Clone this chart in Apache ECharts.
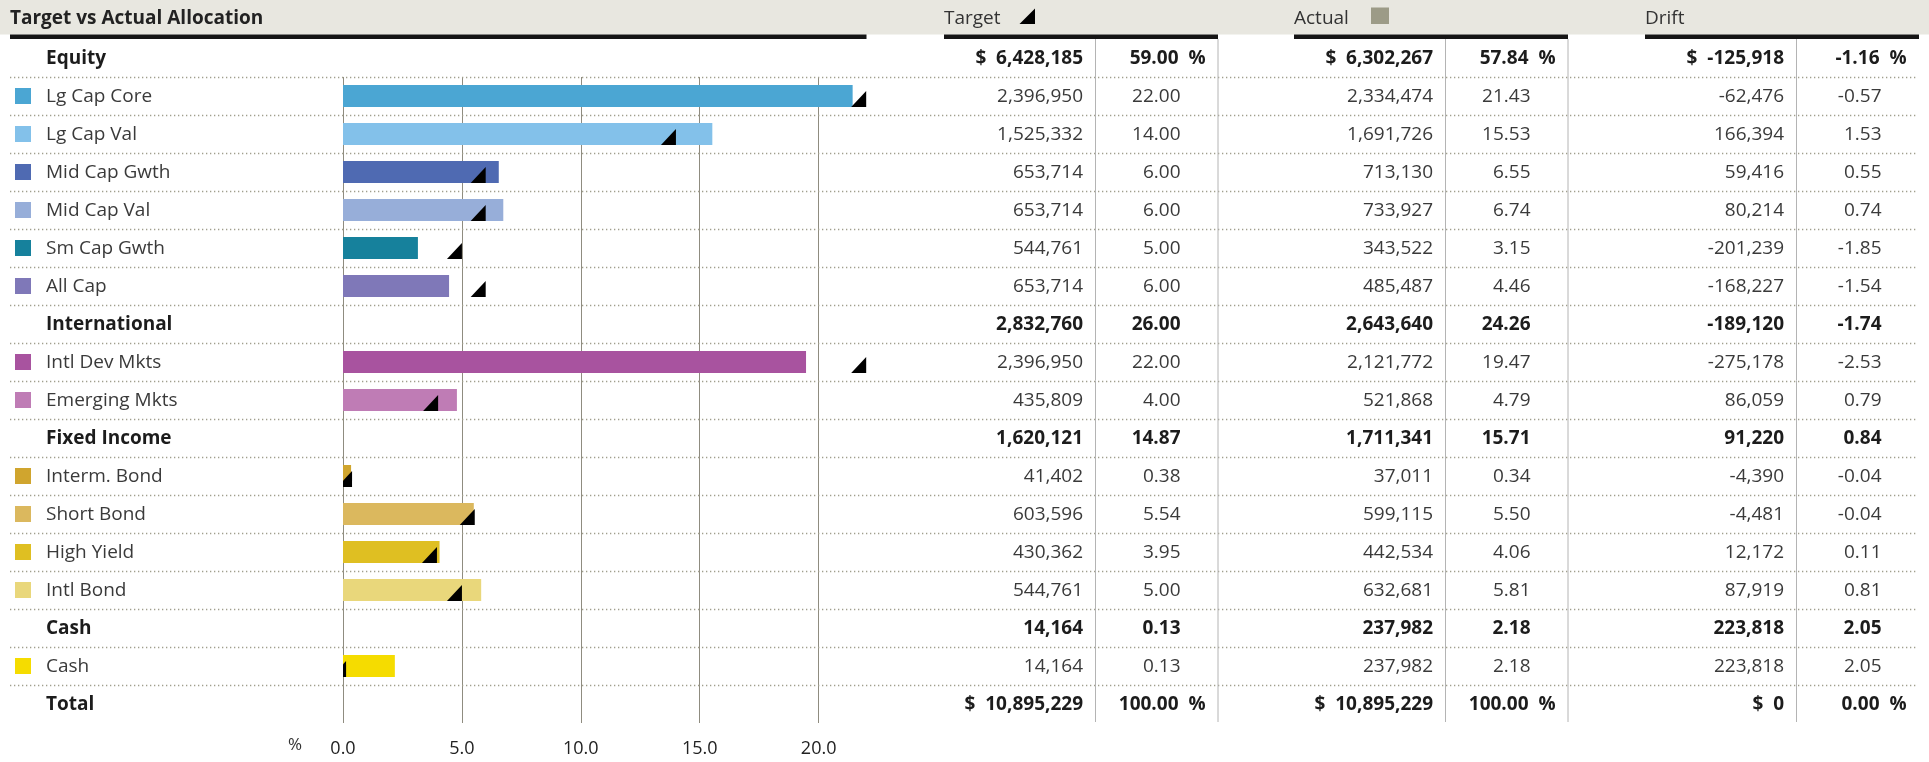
<!DOCTYPE html>
<html>
<head>
<meta charset="utf-8">
<script src="https://cdn.jsdelivr.net/npm/echarts@6/dist/echarts.min.js"></script>
<style>
html,body{margin:0;padding:0;background:#ffffff;}
#c{width:1929px;height:762px;}
</style>
</head>
<body>
<div id="c"></div>
<script>
// ---------------- DATA ----------------
const rowNames = ['Equity','Lg Cap Core','Lg Cap Val','Mid Cap Gwth','Mid Cap Val','Sm Cap Gwth','All Cap',
  'International','Intl Dev Mkts','Emerging Mkts','Fixed Income','Interm. Bond','Short Bond','High Yield','Intl Bond',
  'Cash','Cash','Total'];
const rowKinds = ['g','i','i','i','i','i','i','g','i','i','g','i','i','i','i','g','i','t'];
const itemColors = [null,'#4ba6d3','#83c1ea','#4f6ab2','#97aed9','#16819c','#7f78b8',
  null,'#a8539f','#bf7cb5',null,'#d0a52e','#dbb85e','#dfbf22','#e9d77b',null,'#f5dc00',null];
const targetValue = [6428185,2396950,1525332,653714,653714,544761,653714,2832760,2396950,435809,1620121,41402,603596,430362,544761,14164,14164,10895229];
const targetPct   = [59.00,22.00,14.00,6.00,6.00,5.00,6.00,26.00,22.00,4.00,14.87,0.38,5.54,3.95,5.00,0.13,0.13,100.00];
const actualValue = [6302267,2334474,1691726,713130,733927,343522,485487,2643640,2121772,521868,1711341,37011,599115,442534,632681,237982,237982,10895229];
const actualPct   = [57.84,21.43,15.53,6.55,6.74,3.15,4.46,24.26,19.47,4.79,15.71,0.34,5.50,4.06,5.81,2.18,2.18,100.00];
const driftValue  = [-125918,-62476,166394,59416,80214,-201239,-168227,-189120,-275178,86059,91220,-4390,-4481,12172,87919,223818,223818,0];
const driftPct    = [-1.16,-0.57,1.53,0.55,0.74,-1.85,-1.54,-1.74,-2.53,0.79,0.84,-0.04,-0.04,0.11,0.81,2.05,2.05,0.00];
const headerTitles = ['Target vs Actual Allocation','Target','Actual','Drift'];
const axisUnit = '%';

// ---------------- STYLE ----------------
const FONT = '"Open Sans", "Noto Sans", sans-serif';
const FS = 19;
const GRID_COL = '#8f8c80';
const DOT_COL = '#a09e8d';
const SEP_COL = '#b4b4b4';

const chart = echarts.init(document.getElementById('c'), null, {renderer:'canvas'});

const gridRows = rowNames.slice(1);
const barData = gridRows.map((n, k) => {
  const i = k + 1;
  if (rowKinds[i] !== 'i') return '-';
  return {value: actualPct[i], itemStyle: {color: itemColors[i]}};
});
const triData = [];
gridRows.forEach((n, k) => {
  const i = k + 1;
  if (rowKinds[i] === 'i') triData.push([targetPct[i], k]);
});

chart.setOption({
  animation: false,
  grid: {left: 343, top: 77, width: 523.2, height: 646, containLabel: false},
  xAxis: {
    type: 'value', min: 0, max: 22, interval: 5,
    axisLine: {show: false}, axisTick: {show: false},
    splitLine: {show: true, showMaxLine: false, lineStyle: {color: GRID_COL, width: 1}},
    axisLabel: {formatter: v => v.toFixed(1), fontFamily: FONT, fontSize: 18, color: '#222',
      margin: 26, verticalAlign: 'middle', showMaxLabel: false}
  },
  yAxis: {
    type: 'category', inverse: true, data: gridRows,
    axisLine: {show: false}, axisTick: {show: false}, axisLabel: {show: false}, splitLine: {show: false}
  },
  series: [
    {type: 'bar', data: barData, barWidth: 22, z: 2},
    {type: 'custom', data: triData, encode: {x: 0, y: 1}, clip: true, z: 3,
      renderItem: function (params, api) {
        const p = api.coord([api.value(0), api.value(1)]);
        const yb = p[1] + 11;
        return {type: 'polygon', shape: {points: [[p[0] - 15, yb], [p[0], yb - 16], [p[0], yb]]},
          style: {fill: '#000'}};
      }}
  ]
});

// ---------------- TABLE (positions from the y axis) ----------------
const c0 = chart.convertToPixel({yAxisIndex: 0}, 0);
const c1 = chart.convertToPixel({yAxisIndex: 0}, 1);
const pitch = c1 - c0;
function rowCenter(i) { return i === 0 ? c0 - pitch : chart.convertToPixel({yAxisIndex: 0}, i - 1); }
const fmtN = v => v.toLocaleString('en-US');
const fmtP = v => v.toFixed(2);
const NB = '\u00a0\u00a0';

const g = [];
function txt(x, y, s, opt) {
  g.push({type: 'text', x: x, y: y, silent: true, z: 10,
    style: Object.assign({text: s, fontFamily: FONT, fontSize: FS, fill: '#333',
      align: 'left', verticalAlign: 'middle'}, opt || {})});
}
// header band
g.push({type: 'rect', shape: {x: 0, y: 0, width: 1929, height: 34.5}, style: {fill: '#e8e7e0'}, z: 1});
const groups = [
  {left: 944, val: targetValue, pct: targetPct},
  {left: 1294, val: actualValue, pct: actualPct},
  {left: 1645, val: driftValue, pct: driftPct}
];
const black = [[10, 866.5]].concat(groups.map(gr => [gr.left, gr.left + 274]));
black.forEach(b => g.push({type: 'rect', shape: {x: b[0], y: 34.5, width: b[1] - b[0], height: 4.5},
  style: {fill: '#151515'}, z: 5}));
txt(10, 18.5, headerTitles[0], {fontWeight: 'bold', fill: '#222'});
groups.forEach((gr, j) => txt(gr.left, 18.5, headerTitles[j + 1], {fill: '#333'}));
g.push({type: 'polygon', shape: {points: [[1019.5, 24], [1035, 8.5], [1035, 24]]}, style: {fill: '#000'}, z: 6});
g.push({type: 'rect', shape: {x: 1371, y: 7.5, width: 18, height: 16.5}, style: {fill: '#9c9b87'}, z: 6});

// dotted row lines
for (let i = 0; i < rowNames.length - 1; i++) {
  const y = Math.round(rowCenter(i) + pitch / 2) + 0.5;
  g.push({type: 'line', shape: {x1: 10, y1: y, x2: 1918, y2: y},
    style: {stroke: DOT_COL, lineWidth: 1.3, lineDash: [1.3, 2.7]}, z: 0, silent: true});
}
// vertical separators
const topY = 39, botY = Math.round(rowCenter(rowNames.length - 1) + pitch / 2) - 1;
groups.forEach((gr, j) => {
  const xs = [gr.left + 151.5];
  if (j < 2) xs.push(gr.left + 274);
  xs.forEach(x => g.push({type: 'line', shape: {x1: x, y1: topY, x2: x, y2: botY},
    style: {stroke: SEP_COL, lineWidth: 1}, z: 4, silent: true}));
});

// rows
rowNames.forEach((name, i) => {
  const yc = rowCenter(i);
  const ty = yc + 0.5;
  const kind = rowKinds[i];
  const bold = kind !== 'i';
  const money = (i === 0 || kind === 't');
  if (kind === 'i') {
    g.push({type: 'rect', shape: {x: 15, y: Math.round(yc - 8), width: 16, height: 16},
      style: {fill: itemColors[i]}, z: 6});
  }
  const base = bold ? {fontWeight: 'bold', fill: '#1c1c1c'} : {fill: '#3a3a3a'};
  txt(46, ty, name, base);
  groups.forEach(gr => {
    const sep = gr.left + 151.5, right = gr.left + 274;
    const vStr = money ? '$' + NB + fmtN(gr.val[i]) : fmtN(gr.val[i]);
    txt(sep - 12.5, ty, vStr, Object.assign({align: 'right'}, base));
    if (money) txt(right - 12.5, ty, fmtP(gr.pct[i]) + NB + '%', Object.assign({align: 'right'}, base));
    else txt(right - 37.5, ty, fmtP(gr.pct[i]), Object.assign({align: 'right'}, base));
  });
});
// axis unit
txt(295, 745, axisUnit, {align: 'center', fontSize: 17, fill: '#333'});

chart.setOption({graphic: {elements: g}});
</script>
</body>
</html>
